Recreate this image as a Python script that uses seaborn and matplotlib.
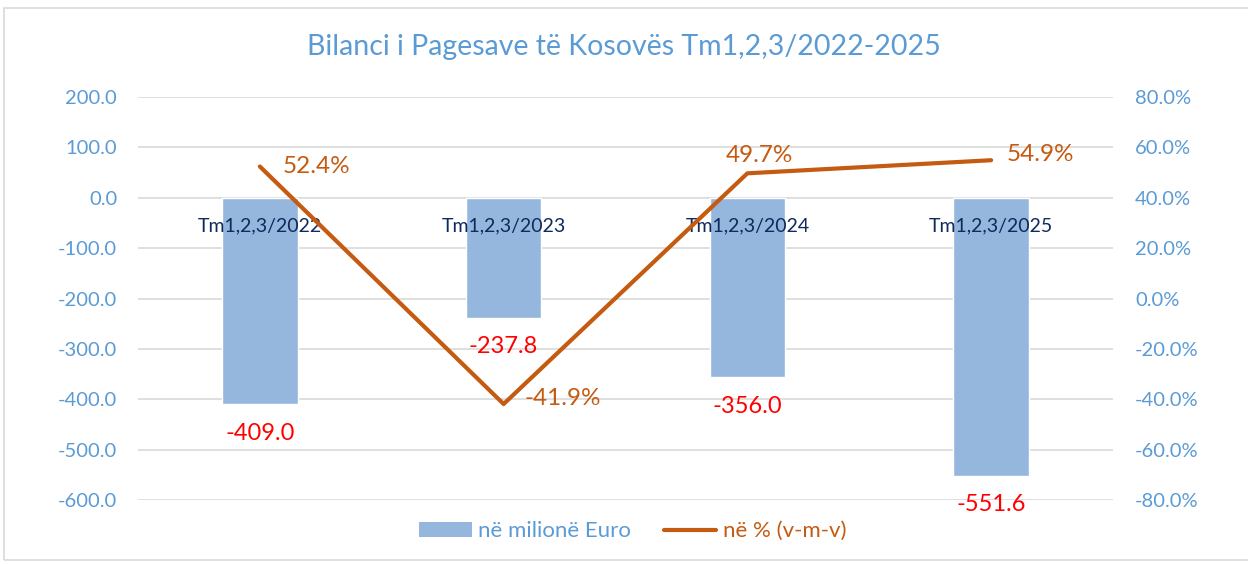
import numpy as np
import pandas as pd
import matplotlib.pyplot as plt
import seaborn as sns
from matplotlib.patches import Patch, Rectangle
from matplotlib.lines import Line2D

periods = ['Tm1,2,3/2022', 'Tm1,2,3/2023', 'Tm1,2,3/2024', 'Tm1,2,3/2025']
balance = [-409.0, -237.8, -356.0, -551.6]
growth = [52.4, -41.9, 49.7, 54.9]

df = pd.DataFrame({'Periudha': periods, 'Bilanci': balance, 'Ndryshimi': growth})
df['pos'] = np.arange(len(df))

sns.set_style('white')
plt.rcParams['font.family'] = ['Lato', 'DejaVu Sans']

blue_txt = '#5b9bd5'
bar_col = '#95b7de'
line_col = '#c55a11'

fig = plt.figure(figsize=(12.48, 5.64), dpi=100)
fig.patches.append(Rectangle((4/1248, 4/564), 1, 552/564, transform=fig.transFigure,
                             fill=False, edgecolor='#d9d9d9', linewidth=1.2))
ax = fig.add_axes([138/1248, 64/564, 975/1248, 403/564])

sns.barplot(data=df, x='Periudha', y='Bilanci', color=bar_col, width=0.31,
            saturation=1, ax=ax, zorder=2)
ax.set_ylim(-600, 200)
ax.set_yticks(np.arange(-600, 201, 100))
ax.set_yticklabels([f'{v:.1f}' for v in np.arange(-600, 201, 100)])
ax.grid(axis='y', color='#d9d9d9', linewidth=1.2, zorder=0)
ax.set_axisbelow(True)
ax.set_xlabel('')
ax.set_ylabel('')
ax.set_xticks([])
ax.tick_params(axis='y', colors=blue_txt, labelsize=14.5, length=0, pad=15)
for s in ax.spines.values():
    s.set_visible(False)

# category labels just under zero line
for i, p in enumerate(periods):
    ax.text(i, -55, p, ha='center', va='center', fontsize=14, color='#0f2a5c', zorder=3)

# value labels under the bars
for i, v in enumerate(balance):
    ax.text(i, v - 58, f'{v:.1f}', ha='center', va='center', fontsize=17, color='#ff0000')

ax2 = ax.twinx()
sns.lineplot(data=df, x='pos', y='Ndryshimi', color=line_col, linewidth=3, ax=ax2)
ax2.set_ylim(-80, 80)
ax2.set_yticks(np.arange(-80, 81, 20))
ax2.set_yticklabels([f'{v:.1f}%' for v in np.arange(-80, 81, 20)])
ax2.tick_params(axis='y', colors=blue_txt, labelsize=14.5, length=0, pad=16)
ax2.set_xlabel('')
ax2.set_ylabel('')
for s in ax2.spines.values():
    s.set_visible(False)
ax.set_xlim(-0.5, 3.5)

offsets = [(16.5, 0, 'left', 'center'), (15, 4, 'left', 'center'),
           (9, 13, 'center', 'center'), (11, 4, 'left', 'center')]
for i, (v, (dx, dy, ha, va)) in enumerate(zip(growth, offsets)):
    ax2.annotate(f'{v:.1f}%', (i, v), xytext=(dx, dy), textcoords='offset points',
                 ha=ha, va=va, fontsize=17.5, color=line_col)

fig.text(0.5, 1 - 47/564, 'Bilanci i Pagesave të Kosovës Tm1,2,3/2022-2025',
         ha='center', va='center', fontsize=20.5, color=blue_txt)

handles = [Patch(facecolor=bar_col, edgecolor='none'),
           Line2D([0], [0], color=line_col, linewidth=3)]
fig.legend(handles, ['në milionë Euro', 'në % (v-m-v)'], loc='center',
           bbox_to_anchor=(0.507, 0.058), ncol=2, frameon=False, fontsize=16,
           labelcolor=[blue_txt, line_col], handlelength=2.35, columnspacing=1.5,
           handletextpad=0.28)

fig.savefig('out.png', dpi=100)
